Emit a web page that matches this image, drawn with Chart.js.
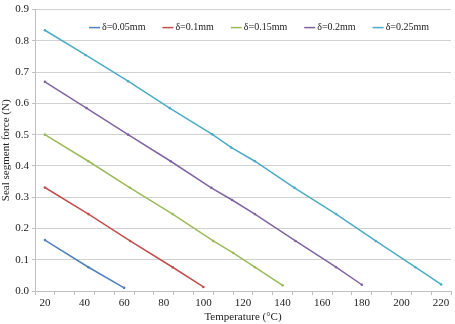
<!DOCTYPE html>
<html>
<head>
<meta charset="utf-8">
<script src="https://cdn.jsdelivr.net/npm/chart.js@4"></script>
<style>
  html, body { margin: 0; padding: 0; background: #fff; }
  #wrap { width: 455px; height: 324px; }
</style>
</head>
<body>
<div id="wrap"><canvas id="forceChart"></canvas></div>
<script>
// valeurs (température °C, effort N)
const labelsDelta = ['δ=0.05mm', 'δ=0.1mm', 'δ=0.15mm', 'δ=0.2mm', 'δ=0.25mm'];
const couleurs = ['#4F81BD', '#C0504D', '#9BBB59', '#8064A2', '#4BACC6'];

const temp005 = [20, 42, 60];
const force005 = [0.163, 0.076, 0.010];

const temp01 = [20, 42, 63, 84.5, 100];
const force01 = [0.331, 0.246, 0.160, 0.076, 0.013];

const temp015 = [20, 42, 63, 84.5, 105, 115, 126, 140];
const force015 = [0.500, 0.415, 0.330, 0.246, 0.160, 0.122, 0.076, 0.018];

const temp02 = [20, 41, 62, 83.5, 104, 114.5, 126, 146.5, 167, 180];
const force02 = [0.669, 0.585, 0.500, 0.415, 0.330, 0.291, 0.246, 0.160, 0.076, 0.020];

const temp025 = [20, 40.5, 62, 83, 104.5, 114, 126, 146, 167, 187, 207, 220];
const force025 = [0.834, 0.755, 0.671, 0.585, 0.501, 0.459, 0.415, 0.330, 0.246, 0.160, 0.076, 0.021];

const xTickLabels = [20, 40, 60, 80, 100, 120, 140, 160, 180, 200, 220];
const yTickLabels = [0, 0.1, 0.2, 0.3, 0.4, 0.5, 0.6, 0.7, 0.8, 0.9];

const temps = [temp005, temp01, temp015, temp02, temp025];
const forces = [force005, force01, force015, force02, force025];

const police = 'Liberation Serif';
const gris = '#bfbfbf';

const datasets = labelsDelta.map((nom, i) => ({
    label: nom,
    data: temps[i].map((t, k) => ({ x: t, y: forces[i][k] })),
    borderColor: couleurs[i],
    backgroundColor: couleurs[i],
    borderWidth: 1.5,
    pointRadius: 1.3,
    pointBorderWidth: 0,
    pointBackgroundColor: couleurs[i],
    tension: 0,
    fill: false
}));

// graduations x : marques tous les 10 (15, 25, ...), libellés tous les 20
const xTicks = [];
for (let v = 15; v <= 225; v += 5) xTicks.push(v);

// légende horizontale dessinée dans la zone du graphique
const legendeInterne = {
    id: 'legendeInterne',
    afterDatasetsDraw(chart) {
        const ctx = chart.ctx;
        const area = chart.chartArea;
        let x = area.left + 54;
        const y = area.top + 18;
        ctx.save();
        ctx.font = '10px "' + police + '"';
        ctx.textBaseline = 'middle';
        ctx.textAlign = 'left';
        chart.data.datasets.forEach((ds) => {
            ctx.strokeStyle = ds.borderColor;
            ctx.lineWidth = 1.5;
            ctx.beginPath();
            ctx.moveTo(x, y);
            ctx.lineTo(x + 11, y);
            ctx.stroke();
            x += 13;
            ctx.fillStyle = '#222';
            ctx.fillText(ds.label, x, y);
            x += ctx.measureText(ds.label).width + 17;
        });
        ctx.restore();
    }
};

new Chart(document.getElementById('forceChart').getContext('2d'), {
    type: 'line',
    data: { datasets: datasets },
    plugins: [legendeInterne],
    options: {
        responsive: true,
        maintainAspectRatio: false,
        animation: false,
        layout: { padding: { top: 4, right: 1, left: 0, bottom: 0 } },
        plugins: {
            legend: { display: false },
            tooltip: { enabled: false }
        },
        scales: {
            x: {
                type: 'linear',
                min: 15,
                max: 225,
                afterBuildTicks: (scale) => { scale.ticks = xTicks.map(v => ({ value: v })); },
                afterFit: (scale) => { scale.height = 33; },
                border: { color: gris },
                grid: {
                    drawOnChartArea: false,
                    drawTicks: true,
                    tickLength: 4,
                    tickColor: (ctx) => (ctx.tick && ctx.tick.value % 10 === 5) ? gris : 'rgba(0,0,0,0)'
                },
                ticks: {
                    autoSkip: false,
                    maxRotation: 0,
                    padding: 2,
                    font: { family: police, size: 11 },
                    color: '#222',
                    callback: (v) => xTickLabels.includes(v) ? String(v) : ''
                },
                title: {
                    display: true,
                    text: 'Temperature (°C)',
                    font: { family: police, size: 11 },
                    color: '#222',
                    padding: { top: 0, bottom: 0 }
                }
            },
            y: {
                min: 0,
                max: 0.9,
                afterBuildTicks: (scale) => { scale.ticks = yTickLabels.map(v => ({ value: v })); },
                afterFit: (scale) => { scale.width = 35; },
                border: { color: gris },
                grid: {
                    color: '#d0d0d0',
                    drawTicks: true,
                    tickLength: 3,
                    tickColor: gris
                },
                ticks: {
                    padding: 3,
                    font: { family: police, size: 11 },
                    color: '#222',
                    callback: (v) => v.toFixed(1)
                },
                title: {
                    display: true,
                    text: 'Seal segment force (N)',
                    font: { family: police, size: 11 },
                    color: '#222',
                    padding: { top: 0, bottom: 0 }
                }
            }
        }
    }
});
</script>
</body>
</html>
